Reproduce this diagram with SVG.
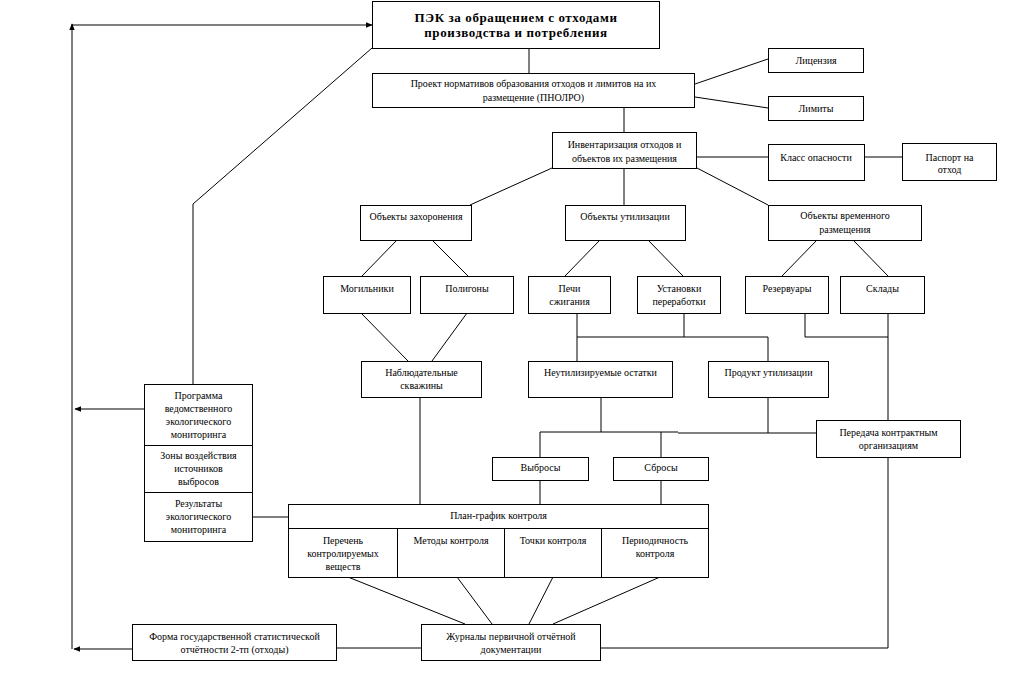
<svg xmlns="http://www.w3.org/2000/svg" width="1022" height="687" viewBox="0 0 1022 687" font-family="'Liberation Serif', 'DejaVu Serif', serif">
<style>
.b{fill:#fff;stroke:#000;stroke-width:1}
.t{font-family:'Liberation Serif','DejaVu Serif',serif;font-size:10px;text-anchor:middle;fill:#000}
.h{font-family:'Liberation Serif','DejaVu Serif',serif;font-size:13px;font-weight:bold;text-anchor:middle;fill:#000;letter-spacing:0.6px}
#connectors line,#connectors polyline{stroke:#000;stroke-width:1;fill:none}
</style>
<defs>
<marker id="arr" viewBox="0 0 10 10" refX="9" refY="5" markerWidth="7" markerHeight="7" markerUnits="userSpaceOnUse" orient="auto">
<path d="M0,1 L10,5 L0,9 z" fill="#000"/>
</marker>
</defs>
<rect width="1022" height="687" fill="#fff"/>
<g id="connectors">
<line x1="529" y1="48" x2="529" y2="73"/>
<line x1="695" y1="84" x2="768" y2="59"/>
<line x1="695" y1="97" x2="768" y2="108"/>
<line x1="624" y1="107" x2="624" y2="132"/>
<line x1="697" y1="157" x2="768" y2="157"/>
<line x1="864" y1="157" x2="902" y2="157"/>
<line x1="624" y1="168" x2="624" y2="205"/>
<line x1="552" y1="168" x2="470" y2="205"/>
<line x1="697" y1="168" x2="768" y2="205"/>
<line x1="397" y1="240" x2="362" y2="276"/>
<line x1="432" y1="240" x2="468" y2="276"/>
<line x1="600" y1="240" x2="565" y2="276"/>
<line x1="648" y1="240" x2="683" y2="276"/>
<line x1="817" y1="240" x2="782" y2="276"/>
<line x1="853" y1="240" x2="888" y2="276"/>
<line x1="361" y1="313" x2="408" y2="361"/>
<line x1="467" y1="313" x2="432" y2="361"/>
<line x1="420" y1="397" x2="420" y2="504"/>
<polyline points="577,313 577,361"/>
<polyline points="684,313 684,337"/>
<polyline points="577,337 768,337 768,361"/>
<polyline points="805,313 805,337 888,337"/>
<line x1="888" y1="313" x2="888" y2="420"/>
<polyline points="888,457 888,648 601,648"/>
<line x1="601" y1="397" x2="601" y2="432"/>
<polyline points="540,457 540,432 678,432"/>
<line x1="678" y1="433" x2="816" y2="433"/>
<line x1="768" y1="397" x2="768" y2="433"/>
<line x1="661" y1="432" x2="661" y2="457"/>
<line x1="540" y1="480" x2="540" y2="504"/>
<line x1="661" y1="480" x2="661" y2="504"/>
<line x1="348" y1="577" x2="465" y2="624"/>
<line x1="457" y1="577" x2="492" y2="624"/>
<line x1="553" y1="577" x2="529" y2="624"/>
<line x1="660" y1="577" x2="553" y2="624"/>
<line x1="421" y1="648" x2="337" y2="648"/>
<line x1="132" y1="649" x2="74" y2="649" marker-end="url(#arr)"/>
<line x1="72" y1="649" x2="72" y2="24" marker-end="url(#arr)"/>
<line x1="72" y1="25" x2="372" y2="25" marker-end="url(#arr)"/>
<line x1="144" y1="409" x2="75" y2="409" marker-end="url(#arr)"/>
<polyline points="372,48 193,204 193,384"/>
<line x1="252" y1="517" x2="288" y2="517"/>
</g>
<g id="pek"><rect class="b" x="372.5" y="1.5" width="287" height="47"/><text class="h" x="516" y="22">ПЭК за обращением с отходами</text><text class="h" x="516" y="37">производства и потребления</text></g>
<g id="pnolro"><rect class="b" x="372.5" y="73.5" width="322" height="34"/><text class="t" x="533.5" y="86.5">Проект нормативов образования отходов и лимитов на их</text><text class="t" x="533.5" y="100.5">размещение (ПНОЛРО)</text></g>
<g id="licenziya"><rect class="b" x="768.5" y="48.5" width="95" height="24"/><text class="t" x="816" y="63.5">Лицензия</text></g>
<g id="limity"><rect class="b" x="768.5" y="96.5" width="95" height="24"/><text class="t" x="816" y="111.5">Лимиты</text></g>
<g id="inventarizaciya"><rect class="b" x="552.5" y="132.5" width="144" height="36"/><text class="t" x="624.5" y="147.5">Инвентаризация отходов и</text><text class="t" x="624.5" y="161.5">объектов их размещения</text></g>
<g id="klass"><rect class="b" x="768.5" y="144.5" width="96" height="36"/><text class="t" x="816" y="160.5">Класс опасности</text></g>
<g id="pasport"><rect class="b" x="902.5" y="143.5" width="94" height="37"/><text class="t" x="949.5" y="160.5">Паспорт на</text><text class="t" x="949.5" y="172.5">отход</text></g>
<g id="zahoronenie"><rect class="b" x="360.5" y="205.5" width="111" height="35"/><text class="t" x="416" y="219.5">Объекты захоронения</text></g>
<g id="utilizaciya"><rect class="b" x="565.5" y="205.5" width="120" height="35"/><text class="t" x="625" y="219.5">Объекты утилизации</text></g>
<g id="vremennoe"><rect class="b" x="768.5" y="205.5" width="153" height="35"/><text class="t" x="845" y="218.5">Объекты временного</text><text class="t" x="845" y="232.5">размещения</text></g>
<g id="mogilniki"><rect class="b" x="323.5" y="276.5" width="87" height="37"/><text class="t" x="367" y="291.5">Могильники</text></g>
<g id="poligony"><rect class="b" x="420.5" y="276.5" width="93" height="37"/><text class="t" x="467" y="291.5">Полигоны</text></g>
<g id="pechi"><rect class="b" x="528.5" y="276.5" width="82" height="37"/><text class="t" x="569.5" y="291.5">Печи</text><text class="t" x="569.5" y="304.5">сжигания</text></g>
<g id="ustanovki"><rect class="b" x="637.5" y="276.5" width="83" height="37"/><text class="t" x="679" y="291.5">Установки</text><text class="t" x="679" y="304.5">переработки</text></g>
<g id="rezervuary"><rect class="b" x="745.5" y="276.5" width="83" height="37"/><text class="t" x="787" y="291.5">Резервуары</text></g>
<g id="sklady"><rect class="b" x="840.5" y="276.5" width="84" height="37"/><text class="t" x="882.5" y="291.5">Склады</text></g>
<g id="skvazhiny"><rect class="b" x="361.5" y="361.5" width="120" height="36"/><text class="t" x="421.5" y="375.5">Наблюдательные</text><text class="t" x="421.5" y="388.5">скважины</text></g>
<g id="ostatki"><rect class="b" x="528.5" y="361.5" width="144" height="36"/><text class="t" x="600.5" y="375.5">Неутилизируемые остатки</text></g>
<g id="produkt"><rect class="b" x="708.5" y="361.5" width="120" height="36"/><text class="t" x="768.5" y="375.5">Продукт утилизации</text></g>
<g id="peredacha"><rect class="b" x="816.5" y="420.5" width="144" height="37"/><text class="t" x="888.5" y="435.5">Передача контрактным</text><text class="t" x="888.5" y="448.5">организациям</text></g>
<g id="vybrosy"><rect class="b" x="492.5" y="457.5" width="96" height="23"/><text class="t" x="540.5" y="471">Выбросы</text></g>
<g id="sbrosy"><rect class="b" x="613.5" y="457.5" width="95" height="23"/><text class="t" x="661" y="471">Сбросы</text></g>
<g id="plan"><rect class="b" x="288.5" y="504.5" width="420" height="24"/><text class="t" x="498.5" y="519">План-график контроля</text>
<rect class="b" x="288.5" y="528.5" width="420" height="49"/>
<line x1="397.5" y1="528" x2="397.5" y2="578" stroke="#000"/><line x1="504.5" y1="528" x2="504.5" y2="578" stroke="#000"/><line x1="601.5" y1="528" x2="601.5" y2="578" stroke="#000"/>
<text class="t" x="343" y="543.5">Перечень</text><text class="t" x="343" y="556.5">контролируемых</text><text class="t" x="343" y="569.5">веществ</text>
<text class="t" x="451" y="543.5">Методы контроля</text>
<text class="t" x="553" y="543.5">Точки контроля</text>
<text class="t" x="655" y="543.5">Периодичность</text><text class="t" x="655" y="556.5">контроля</text></g>
<g id="zhurnaly"><rect class="b" x="421.5" y="624.5" width="179" height="36"/><text class="t" x="511" y="639.5">Журналы первичной отчётной</text><text class="t" x="511" y="652.5">документации</text></g>
<g id="forma"><rect class="b" x="132.5" y="624.5" width="204" height="36"/><text class="t" x="234.5" y="639.5">Форма государственной статистической</text><text class="t" x="234.5" y="652.5">отчётности 2-тп (отходы)</text></g>
<g id="programma"><rect class="b" x="144.5" y="384.5" width="108" height="157"/>
<line x1="144" y1="445.5" x2="253" y2="445.5" stroke="#000"/><line x1="144" y1="492.5" x2="253" y2="492.5" stroke="#000"/>
<text class="t" x="198.5" y="398.5">Программа</text><text class="t" x="198.5" y="412">ведомственного</text><text class="t" x="198.5" y="425">экологического</text><text class="t" x="198.5" y="438">мониторинга</text>
<text class="t" x="198.5" y="458.5">Зоны воздействия</text><text class="t" x="198.5" y="471.5">источников</text><text class="t" x="198.5" y="484.5">выбросов</text>
<text class="t" x="198.5" y="506.5">Результаты</text><text class="t" x="198.5" y="520">экологического</text><text class="t" x="198.5" y="533">мониторинга</text></g>
</svg>
